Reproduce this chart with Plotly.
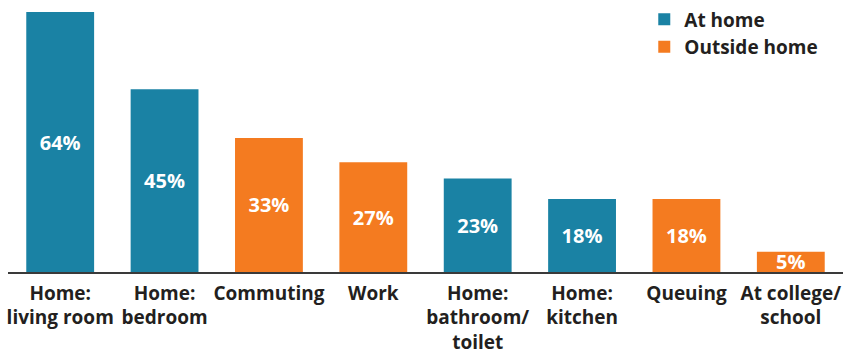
import plotly.graph_objects as go

# Where people use the device, share of respondents (%)
categories = [
    "Home:<br>living room",
    "Home:<br>bedroom",
    "Commuting",
    "Work",
    "Home:<br>bathroom/<br>toilet",
    "Home:<br>kitchen",
    "Queuing",
    "At college/<br>school",
]
values = [64, 45, 33, 27, 23, 18, 18, 5]
groups = ["At home", "At home", "Outside home", "Outside home",
          "At home", "At home", "Outside home", "Outside home"]

series_names = ["At home", "Outside home"]
series_colors = {"At home": "#1a82a4", "Outside home": "#f47b20"}

FONT = "Open Sans"
TEXT_COLOR = "#231f20"

fig = go.Figure()
for name in series_names:
    xs = [c for c, g in zip(categories, groups) if g == name]
    ys = [v for v, g in zip(values, groups) if g == name]
    fig.add_trace(go.Bar(
        x=xs,
        y=ys,
        name=name,
        marker=dict(color=series_colors[name], line=dict(width=0)),
        text=[f"<b>{v}%</b>" for v in ys],
        textposition="inside",
        insidetextanchor="middle",
        constraintext="none",
        textfont=dict(family=FONT, size=20, color="white"),
        hoverinfo="skip",
    ))

fig.update_layout(
    width=843,
    height=352,
    margin=dict(l=8, r=0, t=12, b=80),
    paper_bgcolor="white",
    plot_bgcolor="white",
    barmode="overlay",
    bargap=0.35,
    showlegend=True,
    legend=dict(
        x=0.762, y=1.045, xanchor="left", yanchor="top",
        font=dict(family=FONT, size=19, color=TEXT_COLOR, weight="bold"),
        bgcolor="rgba(0,0,0,0)",
        tracegroupgap=0,
        itemsizing="constant",
    ),
    xaxis=dict(
        type="category",
        categoryorder="array",
        categoryarray=categories,
        showline=True,
        linecolor="#3a3a3a",
        linewidth=1.5,
        showgrid=False,
        ticks="",
        tickangle=0,
        automargin=False,
        ticklabelstandoff=3,
        tickfont=dict(family=FONT, size=19, color=TEXT_COLOR, weight="bold"),
        fixedrange=True,
    ),
    yaxis=dict(
        range=[0, 64],
        visible=False,
        showgrid=False,
        zeroline=False,
        fixedrange=True,
    ),
)

fig.write_html("out.html")
